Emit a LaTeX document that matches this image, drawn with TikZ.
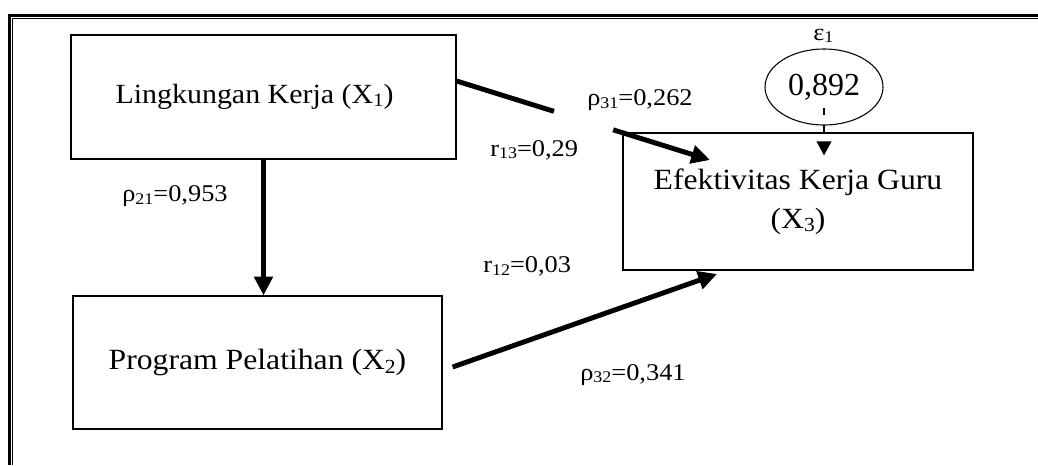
\documentclass[tikz,border=0pt]{standalone}
\usepackage{fontspec}
\setmainfont{Liberation Serif}
\newfontfamily\boxfont[FakeStretch=1.08]{Liberation Serif}
\newfontfamily\lblfont[FakeStretch=1.1]{Liberation Serif}
\usepackage{graphicx}
\usetikzlibrary{arrows.meta,shapes.geometric,calc}
\newcommand{\mysub}[1]{\raisebox{-0.12em}{\scalebox{0.68}{#1}}}
\begin{document}
\begin{tikzpicture}[x=0.75pt,y=-0.75pt,
  box/.style={draw,line width=0.9pt,inner sep=0pt,align=center,font=\boxfont\fontsize{22}{29}\selectfont},
  lbl/.style={inner sep=0pt,anchor=base west,font=\lblfont\fontsize{18}{21}\selectfont},
  thickarrow/.style={line width=3.7pt,-{Triangle[length=14pt,width=13.5pt]}}
]
\useasboundingbox (0,0) rectangle (1038,465);
% frame
\draw[line width=2.25pt] (9.5,465) -- (9.5,15.5) -- (1038,15.5);
\draw[line width=0.8pt] (12.8,465) -- (12.8,18.8) -- (1038,18.8);
% boxes
\node[box,minimum width=288.75pt,minimum height=93pt,font=\boxfont\fontsize{20.8}{27}\selectfont] (b1) at (263.5,97) {Lingkungan Kerja (X\mysub{1})\hspace*{13.5pt}};
\node[box,minimum width=276.75pt,minimum height=99.75pt] (b2) at (257.5,362.5) {Program Pelatihan (X\mysub{2})};
\node[box,minimum width=262.5pt,minimum height=102.75pt] (b3) at (798,201.5) {Efektivitas Kerja Guru\\(X\mysub{3})};
\node[draw,ellipse,line width=0.8pt,minimum width=88.5pt,minimum height=57pt,inner sep=0pt,font=\fontsize{24}{28}\selectfont] (e) at (824,87) {0,892};
% labels
\node[lbl] (eps) at (813,40) {ε\mysub{1}};
\node[lbl] (l31) at (587,105.7) {ρ\mysub{31}=0,262};
\node[lbl] (l13) at (490,156) {r\mysub{13}=0,29};
\node[lbl] (l21) at (122,201.7) {ρ\mysub{21}=0,953};
\node[lbl] (l12) at (483,272.7) {r\mysub{12}=0,03};
\node[lbl] (l32) at (580,380) {ρ\mysub{32}=0,341};
% connectors
\coordinate (t13) at (710,160);
\coordinate (t23) at (717,274);
\draw[thickarrow,dash pattern=on 76.5pt off 46.5pt on 300pt] ($(b1.east)+(0,-16)$) -- (t13);
\draw[thickarrow] (b1.south) -- (b1.south |- b2.north);
\draw[thickarrow] ($(b2.east)+(10,4.5)$) -- (t23);
\draw[line width=1.1pt,dash pattern=on 5.25pt off 7.5pt on 6pt off 30pt,-{Triangle[length=10.5pt,width=11pt]}] ($(e.center)+(0,21)$) -- ($(b3.north)+(26,23)$);
\end{tikzpicture}
\end{document}
